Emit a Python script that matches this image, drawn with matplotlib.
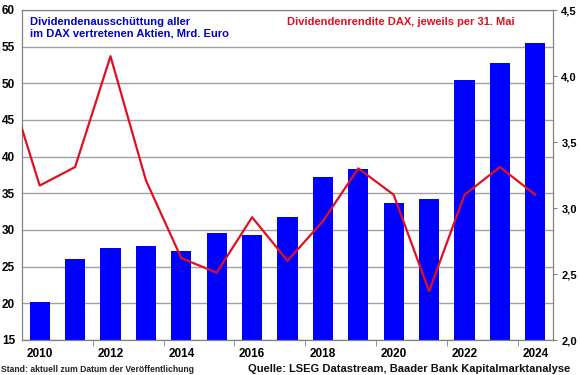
import numpy as np
import matplotlib
matplotlib.use('Agg')
import matplotlib.pyplot as plt

plt.rcParams['font.family'] = ['Liberation Sans', 'DejaVu Sans']

years = np.arange(2010, 2025)
payout = [20.2, 26.1, 27.6, 27.8, 27.1, 29.6, 29.3, 31.8, 37.2, 38.3,
          33.7, 34.2, 50.4, 52.8, 55.5]

# yield on 31 May, 2009 point only to run the line into the left edge
yield_years = np.arange(2009, 2025)
div_yield = [4.03, 3.17, 3.31, 4.15, 3.21, 2.62, 2.51, 2.93, 2.60, 2.90,
             3.30, 3.10, 2.37, 3.10, 3.31, 3.10]

fig = plt.figure(figsize=(5.8, 3.75), dpi=100)
ax = fig.add_axes([22/580, 1-340/375, 531/580, 330/375])

ax.bar(years, payout, width=0.57, color='#0000FF', zorder=2)
ax.set_xlim(2009.5, 2024.5)
ax.set_ylim(15, 60)
ax.set_yticks(np.arange(15, 61, 5))
ax.grid(axis='y', color='#A0A0A0', linewidth=1, zorder=0)
ax.set_axisbelow(True)

ax.set_xticks(years[::2])
ax.set_xticks(np.arange(2011.5, 2024, 2), minor=True)
ax.tick_params(axis='x', which='major', length=0, pad=6)
ax.tick_params(axis='x', which='minor', length=4, color='#808080')
ax.tick_params(axis='y', length=0, pad=5)
for lab in ax.get_xticklabels() + ax.get_yticklabels():
    lab.set_fontweight('bold')
    lab.set_fontsize(8.5)

for s in ax.spines.values():
    s.set_color('#808080')

ax2 = ax.twinx()
ax2.plot(yield_years, div_yield, color='#E01020', linewidth=1.6, zorder=3)
ax2.set_ylim(2.0, 4.5)
ax2.set_yticks(np.arange(2.0, 4.51, 0.5))
ax2.set_yticklabels([f'{v:.1f}'.replace('.', ',') for v in np.arange(2.0, 4.51, 0.5)])
ax2.tick_params(axis='y', length=3, color='#808080', pad=3)
for lab in ax2.get_yticklabels():
    lab.set_fontweight('bold')
    lab.set_fontsize(8)
ax2.set_xlim(2009.5, 2024.5)
for s in ax2.spines.values():
    s.set_color('#808080')

fig.text(30/580, 1-28/375, 'Dividendenausschüttung aller\nim DAX vertretenen Aktien, Mrd. Euro',
         color='#0000CC', fontsize=8, fontweight='bold', va='center', linespacing=1.15)
fig.text(287/580, 1-22/375, 'Dividendenrendite DAX, jeweils per 31. Mai',
         color='#E01020', fontsize=8, fontweight='bold', va='center')
fig.text(1/580, 1-369/375, 'Stand: aktuell zum Datum der Veröffentlichung',
         color='#222222', fontsize=6.25, fontweight='bold', va='center')
fig.text(570/580, 1-369/375, 'Quelle: LSEG Datastream, Baader Bank Kapitalmarktanalyse',
         color='#111111', fontsize=8, fontweight='bold', va='center', ha='right')

fig.savefig('out.png', dpi=100)
